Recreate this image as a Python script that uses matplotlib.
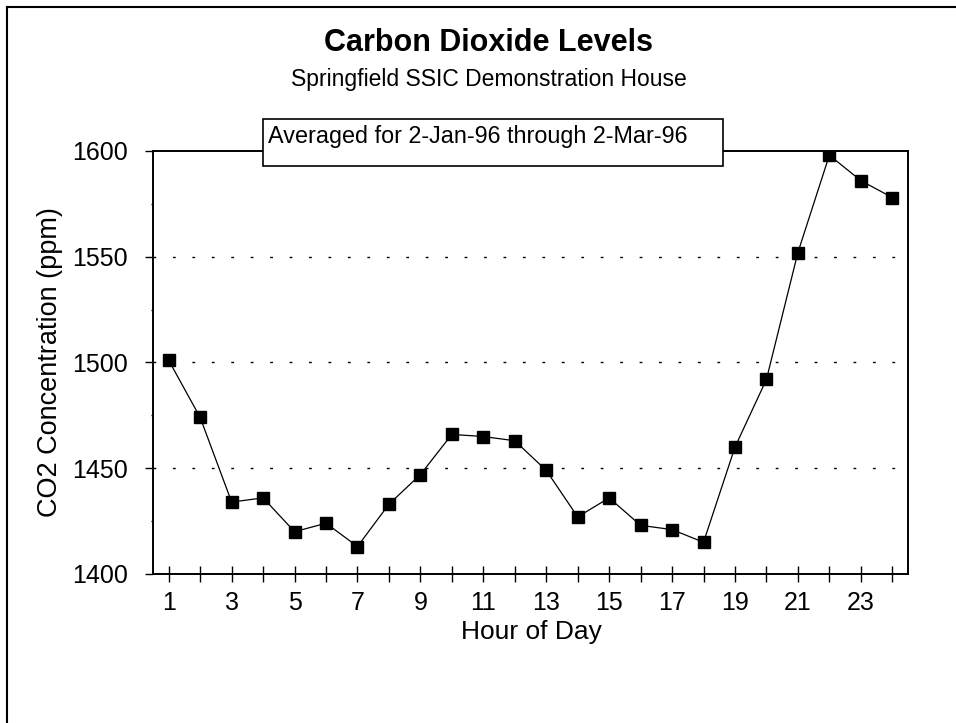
import matplotlib.pyplot as plt
from matplotlib.patches import Rectangle
from matplotlib.lines import Line2D

plt.rcParams['font.family'] = ['Liberation Sans', 'DejaVu Sans']

# hourly averages
hours = list(range(1, 25))
co2_ppm = [1501, 1474, 1434, 1436, 1420, 1424, 1413, 1433, 1447, 1466, 1465, 1463,
           1449, 1427, 1436, 1423, 1421, 1415, 1460, 1492, 1552, 1598, 1586, 1578]
x_labels = [str(h) if h % 2 == 1 else '' for h in hours]
y_ticks = [1400, 1450, 1500, 1550, 1600]
y_minor = [1425, 1475, 1525, 1575]

W, H = 956, 723
fig = plt.figure(figsize=(W / 100, H / 100), dpi=100)
ax = fig.add_axes([153 / W, 1 - 574 / H, 755 / W, 423 / H])

ax.plot(hours, co2_ppm, color='black', linewidth=0.9, marker='s',
        markersize=9, markerfacecolor='black', markeredgecolor='black', zorder=3)

ax.set_xlim(0.5, 24.5)
ax.set_ylim(1400, 1600)
ax.set_xticks(hours)
ax.set_xticklabels(x_labels)
ax.set_yticks(y_ticks)
ax.set_yticks(y_minor, minor=True)

for y in y_ticks[1:-1]:
    ax.axhline(y, color='black', linewidth=1.0, linestyle=(0, (2, 12)), zorder=1)

for s in ax.spines.values():
    s.set_linewidth(1.4)
    s.set_color('black')

ax.tick_params(axis='x', direction='inout', length=12, width=1.0, labelsize=18, pad=6)
ax.tick_params(axis='y', which='major', direction='out', length=6, width=1.0, labelsize=18, pad=12)
ax.tick_params(axis='y', which='minor', direction='out', length=1.5, width=1.0)

# titles and axis labels
fig.text(489 / W, 1 - 51 / H, 'Carbon Dioxide Levels', ha='center', va='baseline',
         fontsize=22, fontweight='bold')
fig.text(489 / W, 1 - 86 / H, 'Springfield SSIC Demonstration House', ha='center',
         va='baseline', fontsize=16.5)
fig.text(531 / W, 1 - 632 / H, 'Hour of Day', ha='center', va='center', fontsize=19)
fig.text(50 / W, 1 - 362 / H, 'CO2 Concentration (ppm)', ha='center', va='center',
         rotation=90, fontsize=19.5)

# date range box sitting on top of the plot frame
fig.patches.append(Rectangle((262.7 / W, 1 - 165.7 / H), 460.3 / W, 46.7 / H,
                             transform=fig.transFigure, facecolor='white',
                             edgecolor='black', linewidth=1.2, zorder=5))
fig.text(268 / W, 1 - 143 / H, 'Averaged for 2-Jan-96 through 2-Mar-96',
         ha='left', va='baseline', fontsize=16.8, zorder=6)

# page border (left and top edges visible)
fig.add_artist(Line2D([7 / W, 7 / W], [0, 1 - 7 / H], color='black', linewidth=1.5,
                      transform=fig.transFigure))
fig.add_artist(Line2D([7 / W, 1], [1 - 7 / H, 1 - 7 / H], color='black', linewidth=1.5,
                      transform=fig.transFigure))

fig.savefig('out.png', dpi=100)
